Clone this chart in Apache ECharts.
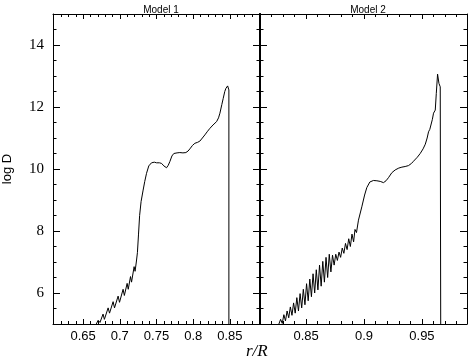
<!DOCTYPE html>
<html>
<head>
<meta charset="utf-8">
<script src="https://cdn.jsdelivr.net/npm/echarts@6/dist/echarts.min.js"></script>
<style>
  html, body { margin: 0; padding: 0; background: #fff; }
  #chart { width: 469px; height: 363px; }
</style>
</head>
<body>
<div id="chart"></div>
<script>
// Model 1 profile
var model1R = [0.6680, 0.6705, 0.6730, 0.6772, 0.6790, 0.6841, 0.6860, 0.6909, 0.6928, 0.6977,
  0.6996, 0.7045, 0.7062, 0.7100, 0.7115, 0.7146, 0.7160, 0.7195, 0.7208, 0.7225,
  0.7240, 0.7255, 0.7270, 0.7290, 0.7318, 0.7340, 0.7364, 0.7395, 0.7432, 0.7470, 0.7500,
  0.7540, 0.7569, 0.7600, 0.7637, 0.7660, 0.7682, 0.7710, 0.7736, 0.7780, 0.7818,
  0.7860, 0.7900, 0.7930, 0.7955, 0.7990, 0.8023, 0.8060, 0.8091, 0.8125, 0.8159,
  0.8190, 0.8227, 0.8270, 0.8319, 0.8345, 0.8364, 0.8390, 0.8409, 0.8430, 0.8445,
  0.8469, 0.8480, 0.8486, 0.8486];
var model1LogD = [5.00, 5.12, 5.05, 5.32, 5.15, 5.52, 5.35, 5.72, 5.52, 5.90,
  5.70, 6.12, 5.92, 6.31, 6.12, 6.53, 6.35, 6.85, 6.70, 7.00,
  7.30, 7.90, 8.50, 8.95, 9.32, 9.60, 9.86, 10.10, 10.20, 10.22, 10.20,
  10.20, 10.18, 10.10, 10.04, 10.12, 10.24, 10.42, 10.50, 10.52, 10.53,
  10.52, 10.53, 10.58, 10.65, 10.76, 10.83, 10.86, 10.90, 11.00, 11.10,
  11.20, 11.31, 11.42, 11.53, 11.65, 11.80, 12.08, 12.28, 12.50, 12.60,
  12.68, 12.65, 12.55, 5.00];

// Model 2 profile
var model2R = [0.8265, 0.8280, 0.8294, 0.8308, 0.8322, 0.8336, 0.8350, 0.8364, 0.8378, 0.8392,
  0.8406, 0.8420, 0.8434, 0.8448, 0.8462, 0.8476, 0.8490, 0.8504, 0.8518, 0.8532,
  0.8546, 0.8560, 0.8574, 0.8588, 0.8602, 0.8616, 0.8630, 0.8644, 0.8658, 0.8672,
  0.8686, 0.8700, 0.8714, 0.8728, 0.8742, 0.8756, 0.8770, 0.8784, 0.8798, 0.8812,
  0.8826, 0.8840, 0.8854, 0.8868, 0.8882, 0.8896, 0.8910, 0.8922, 0.8935, 0.8952,
  0.8981, 0.9005, 0.9024, 0.9050, 0.9081, 0.9111, 0.9140, 0.9168, 0.9190, 0.9211,
  0.9240, 0.9269, 0.9300, 0.9327, 0.9355, 0.9384, 0.9410, 0.9427, 0.9460, 0.9485,
  0.9510, 0.9529, 0.9545, 0.9557, 0.9568, 0.9578, 0.9590, 0.9600, 0.9615, 0.9624,
  0.9635, 0.9647, 0.9658, 0.9662, 0.9662];
var model2LogD = [5.00, 5.15, 5.02, 5.30, 5.10, 5.42, 5.20, 5.55, 5.28, 5.68,
  5.35, 5.85, 5.42, 5.98, 5.52, 6.12, 5.62, 6.30, 5.75, 6.45,
  5.88, 6.62, 6.00, 6.75, 6.10, 6.90, 6.22, 7.02, 6.35, 7.15,
  6.50, 7.25, 6.68, 7.22, 6.90, 7.25, 7.05, 7.32, 7.15, 7.45,
  7.28, 7.60, 7.40, 7.75, 7.50, 7.90, 7.65, 8.05, 7.95, 8.35,
  8.78, 9.16, 9.40, 9.58, 9.63, 9.62, 9.60, 9.56, 9.62, 9.72,
  9.88, 9.97, 10.03, 10.06, 10.08, 10.11, 10.18, 10.25, 10.38, 10.50,
  10.65, 10.80, 11.00, 11.20, 11.28, 11.33, 11.60, 11.80, 11.90, 12.44,
  13.06, 12.76, 12.65, 12.60, 5.00];

var panelTitles = ['Model 1', 'Model 2'];
var xRanges = [[0.609, 0.891], [0.8102, 0.9889]];
var xSplits = [5, 4];
var yRange = [5, 15];

function zip(a, b) {
  return a.map(function (v, i) { return [v, b[i]]; });
}

var chart = echarts.init(document.getElementById('chart'));

function xAx(grid, pos, labels) {
  return {
    type: 'value', gridIndex: grid, position: pos,
    min: xRanges[grid][0], max: xRanges[grid][1], splitNumber: xSplits[grid],
    axisLine: { show: true, onZero: false, lineStyle: { color: '#000', width: 1 } },
    axisTick: { show: true, inside: true, length: 5, lineStyle: { color: '#000' } },
    minorTick: { show: true, splitNumber: 5, length: 3, lineStyle: { color: '#000' } },
    axisLabel: {
      show: labels, showMinLabel: false, showMaxLabel: false, margin: 6,
      color: '#000', fontFamily: 'Liberation Sans', fontSize: 13
    },
    splitLine: { show: false }
  };
}

function yAx(grid, pos, labels, lw) {
  return {
    type: 'value', gridIndex: grid, position: pos,
    min: yRange[0], max: yRange[1], splitNumber: 5,
    axisLine: { show: true, onZero: false, lineStyle: { color: '#000', width: lw } },
    axisTick: { show: true, inside: true, length: 7, lineStyle: { color: '#000' } },
    minorTick: { show: true, splitNumber: 4, length: 3.5, lineStyle: { color: '#000' } },
    axisLabel: {
      show: labels, showMinLabel: false, showMaxLabel: false, margin: 9,
      color: '#000', fontFamily: 'Liberation Serif', fontSize: 15
    },
    splitLine: { show: false }
  };
}

var option = {
  backgroundColor: '#fff',
  animation: false,
  title: [
    { text: panelTitles[0], left: 156, top: 0, textAlign: 'center',
      textStyle: { fontFamily: 'Liberation Sans', fontSize: 10, fontWeight: 'normal', color: '#000' } },
    { text: panelTitles[1], left: 363, top: 0, textAlign: 'center',
      textStyle: { fontFamily: 'Liberation Sans', fontSize: 10, fontWeight: 'normal', color: '#000' } }
  ],
  grid: [
    { left: 52, top: 14, width: 208, height: 310 },
    { left: 260, top: 14, width: 207, height: 310 }
  ],
  xAxis: [
    xAx(0, 'bottom', true),
    xAx(0, 'top', false),
    xAx(1, 'bottom', true),
    xAx(1, 'top', false)
  ],
  yAxis: [
    Object.assign(yAx(0, 'left', true, 1), {
      name: 'log D', nameLocation: 'middle', nameGap: 39, nameRotate: 90,
      nameTextStyle: { fontFamily: 'Liberation Sans', fontSize: 13, color: '#000' }
    }),
    yAx(0, 'right', false, 2),
    yAx(1, 'left', false, 2),
    yAx(1, 'right', false, 1)
  ],
  graphic: [
    { type: 'text', left: 246, top: 343,
      style: { text: 'r/R', font: 'italic 17px "Liberation Serif"', fill: '#000' } }
  ],
  series: [
    { type: 'line', xAxisIndex: 0, yAxisIndex: 0, data: zip(model1R, model1LogD),
      showSymbol: false, symbol: 'none', lineStyle: { color: '#000', width: 1 } },
    { type: 'line', xAxisIndex: 2, yAxisIndex: 2, data: zip(model2R, model2LogD),
      showSymbol: false, symbol: 'none', lineStyle: { color: '#000', width: 1 } }
  ]
};

chart.setOption(option);
</script>
</body>
</html>
